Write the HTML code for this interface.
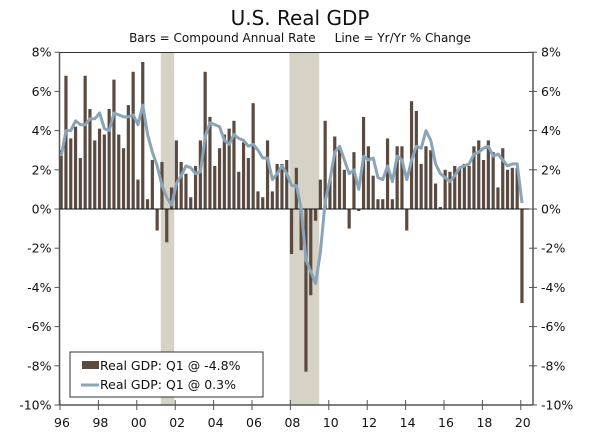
<!DOCTYPE html>
<html><head><meta charset="utf-8"><style>
body{margin:0;background:#fff;}
svg{font-family:"DejaVu Sans","Liberation Sans",sans-serif;}
</style></head><body>
<svg id="c" width="600" height="436" viewBox="0 0 600 436">
<text x="300" y="25" text-anchor="middle" font-size="20" fill="#111">U.S. Real GDP</text>
<text x="300" y="42" text-anchor="middle" font-size="12" fill="#111">Bars = Compound Annual Rate&#160;&#160;&#160;&#160;&#160;Line = Yr/Yr % Change</text>
<g id="rec"></g><g id="bars"></g><g id="axes"></g><g id="line"></g>
<g>
<rect x="70" y="352" width="193" height="45" fill="#fff" stroke="#333" stroke-width="1"/>
<rect x="82" y="361" width="17" height="8" fill="#5a4a40"/>
<text x="100" y="370" font-size="12.5" fill="#111">Real GDP: Q1 @ -4.8%</text>
<line x1="81" y1="385" x2="99" y2="385" stroke="#8aa4b8" stroke-width="3"/>
<text x="100" y="389" font-size="12.5" fill="#111">Real GDP: Q1 @ 0.3%</text>
</g>
</svg>
<script>
const barValues=[3.0,6.8,3.6,4.2, 2.6,6.8,5.1,3.5, 4.1,3.8,5.1,6.6, 3.8,3.1,5.3,7.0, 1.5,7.5,0.5,2.5,
-1.1,2.4,-1.7,1.1, 3.5,2.4,1.8,0.6, 2.2,3.5,7.0,4.7, 2.2,3.1,3.8,4.1, 4.5,1.9,3.4,2.6,
5.4,0.9,0.6,3.5, 0.9,2.3,2.3,2.5, -2.3,2.1,-2.1,-8.3, -4.4,-0.6,1.5,4.5, 1.5,3.7,3.2,2.0,
-1.0,2.9,-0.1,4.7, 3.2,1.7,0.5,0.5, 3.6,0.5,3.2,3.2, -1.1,5.5,5.0,2.3, 3.2,3.0,1.3,0.1,
2.0,1.9,2.2,2.1, 2.3,2.2,3.2,3.5, 2.5,3.5,2.9,1.1, 3.1,2.0,2.1,2.1, -4.8];
const yoyValues=[2.7,4.0,4.0,4.5, 4.3,4.3,4.6,4.6, 4.9,4.1,4.0,4.9, 4.8,4.7,4.7,4.8, 4.3,5.3,3.8,2.9,
2.2,1.2,0.6,0.2, 1.3,1.7,2.2,2.1, 1.8,1.9,3.7,4.4, 4.3,4.2,3.5,3.3, 3.8,3.6,3.5,3.2,
3.3,3.0,2.6,2.6, 1.5,1.8,2.2,1.8, 1.2,1.2,0.0,-2.6, -3.2,-3.8,-2.2,0.4, 1.5,2.9,3.2,2.5,
1.8,2.0,1.0,2.7, 2.5,2.6,1.6,1.5, 2.2,1.4,2.7,2.5, 1.5,2.5,3.2,3.1, 4.0,3.5,2.3,1.8,
1.6,1.4,1.7,2.1, 2.2,2.3,2.8,2.9, 3.1,3.2,2.7,2.8, 2.5,2.2,2.3,2.3, 0.3];
const recessions=[[2001.25,2001.95],[2007.95,2009.5]];
const yTicks=[8,6,4,2,0,-2,-4,-6,-8,-10];
const xTickYears=[1996,1998,2000,2002,2004,2006,2008,2010,2012,2014,2016,2018,2020];
const startYear=1996;
const NS='http://www.w3.org/2000/svg';
const X0=59.5,X1=533,Y0=52.5,Y1=405;
function x(t){return 60+(t-1996)*19.2;}
function y(v){return 209-v*19.6;}
function mk(tag,attrs,parent){const e=document.createElementNS(NS,tag);for(const k in attrs)e.setAttribute(k,attrs[k]);parent.appendChild(e);return e;}
const rec=document.getElementById('rec'),bars=document.getElementById('bars'),axes=document.getElementById('axes'),ln=document.getElementById('line');
recessions.forEach(r=>{const e=mk('rect',{x:x(r[0]),y:Y0,width:x(r[1])-x(r[0]),height:Y1-Y0,fill:'#d6d2c6'},rec);

});
barValues.forEach((v,i)=>{const t=startYear+i/4+0.06;const cx=x(t);
const e=mk('rect',{x:cx-1.6,y:Math.min(y(v),y(0)),width:3.2,height:Math.abs(y(v)-y(0)),fill:'#5a4a40'},bars);

});
// axes
mk('line',{x1:X0,y1:Y0,x2:X1,y2:Y0,stroke:'#333','stroke-width':1},axes);
mk('line',{x1:X0,y1:Y0,x2:X0,y2:Y1,stroke:'#555','stroke-width':1.5},axes);
mk('line',{x1:X1,y1:Y0,x2:X1,y2:Y1,stroke:'#555','stroke-width':1.5},axes);
mk('line',{x1:X0,y1:Y1,x2:X1,y2:Y1,stroke:'#555','stroke-width':1.5},axes);
mk('line',{x1:X0,y1:y(0),x2:X1,y2:y(0),stroke:'#111','stroke-width':1},axes);
yTicks.forEach(v=>{const yy=y(v);
mk('line',{x1:X0-5,y1:yy,x2:X0,y2:yy,stroke:'#555'},axes);
mk('line',{x1:X1-4,y1:yy,x2:X1+4,y2:yy,stroke:'#555'},axes);
const a=mk('text',{x:X0-8,y:yy+4.5,'text-anchor':'end','font-size':12.5,fill:'#111'},axes);a.textContent=v+'%';


const b=mk('text',{x:X1+8,y:yy+4.5,'text-anchor':'start','font-size':12.5,fill:'#111'},axes);b.textContent=v+'%';

});
xTickYears.forEach(yr=>{const xx=x(yr);
mk('line',{x1:xx,y1:Y1-5,x2:xx,y2:Y1+5,stroke:'#555'},axes);
const t=mk('text',{x:xx+2,y:Y1+22,'text-anchor':'middle','font-size':12.5,fill:'#111'},axes);t.textContent=String(yr).slice(2);

});
const pts=yoyValues.map((v,i)=>x(startYear+i/4+0.06).toFixed(1)+','+y(v).toFixed(1)).join(' ');
const pl=mk('polyline',{points:pts,fill:'none',stroke:'#8aa4b8','stroke-width':3,'stroke-linejoin':'round'},ln);


</script>
</body></html>
